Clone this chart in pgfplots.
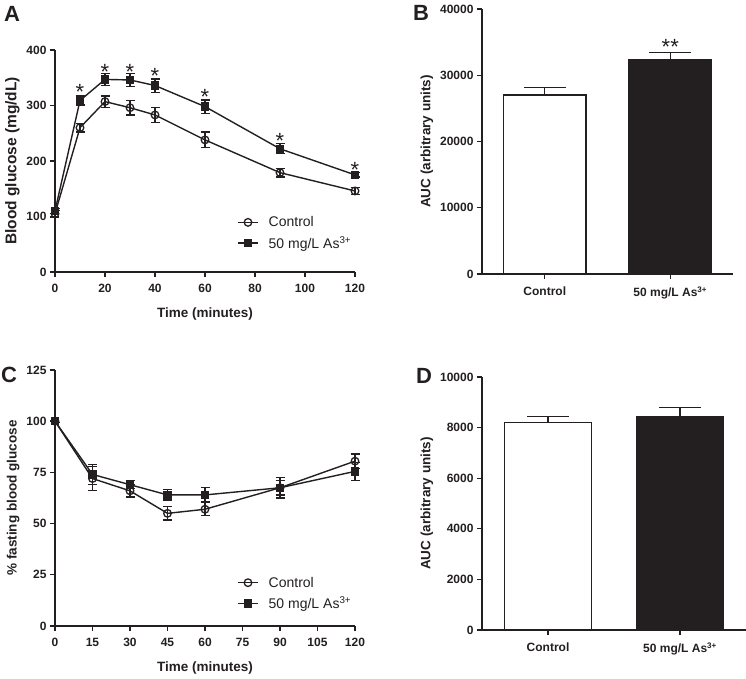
\documentclass[border=0pt]{standalone}
\usepackage{fontspec}
\setmainfont{Liberation Sans}
\usepackage{pgfplots}
\pgfplotsset{compat=1.18}
\definecolor{ink}{HTML}{231F20}

\tikzset{astk/.style={anchor=north, inner sep=0pt, font=\fontsize{22}{22}\selectfont, text=ink}}

\pgfplotsset{
  gp/.style={
    scale only axis,
    anchor=south west,
    axis lines*=left,
    axis line style={line width=1.5pt, ink, -},
    tick style={line width=1.3pt, ink},
    tick align=outside,
    major tick length=5pt,
    clip=false,
    /pgf/number format/assume math mode=true,
    /pgf/number format/1000 sep={},
    scaled ticks=false,
    tick label style={font=\fontsize{12}{12}\selectfont\bfseries, text=ink},
    xticklabel style={yshift=-4pt},
    label style={font=\fontsize{13.5}{13.5}\selectfont\bfseries, text=ink},
    xlabel style={yshift=-8pt},
  },
  ln/.style={line width=1.4pt, ink,
    error bars/y dir=both, error bars/y explicit,
    error bars/error bar style={line width=1.3pt, ink},
    error bars/error mark options={rotate=90, mark size=4.5pt, line width=1.3pt, ink}},
  ctl/.style={ln, mark=o, mark size=3.8pt, mark options={fill=white, line width=1.3pt}},
  ars/.style={ln, mark=square*, mark size=3.5pt, mark options={fill=ink}},
  lgd/.style={legend style={draw=none, fill=none, anchor=west, at={#1},
    font=\fontsize{14}{14}\selectfont, text=ink, row sep=4pt, inner sep=0pt},
    legend cell align=left,
    legend image code/.code={\draw[mark repeat=2, mark phase=2, ##1]
      plot coordinates {(0pt,0pt) (10pt,0pt) (20pt,0pt)};
      \path (28pt,0pt);}},
  bars/.style={
    xmin=-0.5, xmax=1.5, xtick={0,1},
    xticklabels={Control, 50 mg/L As\textsuperscript{3+}},
    ylabel={AUC (arbitrary units)}},
  bar/.style={ybar, bar width=0.66, bar shift=0pt, draw=ink, line width=1.4pt,
    error bars/y dir=plus, error bars/y explicit,
    error bars/error bar style={line width=1.4pt, ink},
    error bars/error mark options={rotate=90, mark size=21pt, line width=1.4pt, ink}},
}

\begin{document}
\begin{tikzpicture}[x=1pt, y=1pt]
\path[use as bounding box] (0,0) rectangle (746,678);

% A
\begin{axis}[gp, at={(55pt,406pt)}, width=300pt, height=222pt,
  xmin=0, xmax=120, ymin=0, ymax=400,
  xtick={0,20,...,120}, ytick={0,100,...,400},
  xlabel={Time (minutes)}, ylabel={Blood glucose (mg/dL)},
  ylabel style={font=\fontsize{15.5}{15.5}\selectfont\bfseries},
  lgd={(rel axis cs:0.607,0.175)}]
\addplot[ctl] coordinates {
  (0,105) +- (0,6) (10,260) +- (0,8) (20,307) +- (0,10) (30,296) +- (0,13)
  (40,283) +- (0,14) (60,238) +- (0,14) (90,179) +- (0,8) (120,146) +- (0,6)};
\addplot[ars] coordinates {
  (0,110) +- (0,5) (10,309) +- (0,8) (20,347) +- (0,11) (30,346) +- (0,12)
  (40,336) +- (0,12) (60,298) +- (0,12) (90,222) +- (0,9) (120,175) +- (0,4)};
\legend{Control, 50 mg/L As\textsuperscript{3+}}
\node[astk] at (axis cs:10,339) {*};
\node[astk] at (axis cs:20,375) {*};
\node[astk] at (axis cs:30,375) {*};
\node[astk] at (axis cs:40,368) {*};
\node[astk] at (axis cs:60,330) {*};
\node[astk] at (axis cs:90,251) {*};
\node[astk] at (axis cs:120,198) {*};
\end{axis}

% B
\begin{axis}[gp, bars, at={(482pt,404pt)}, width=251pt, height=265pt,
  ymin=0, ymax=40000, ytick={0,10000,...,40000}]
\addplot[bar, fill=white] coordinates {(0,27000) +- (0,1150)};
\addplot[bar, fill=ink] coordinates {(1,32400) +- (0,1000)};
\node[astk] at (axis cs:1,35400) {**};
\end{axis}

% C
\begin{axis}[gp, at={(55pt,52pt)}, width=300pt, height=256pt,
  xmin=0, xmax=120, ymin=0, ymax=125,
  xtick={0,15,...,120}, ytick={0,25,...,125},
  xlabel={Time (minutes)}, ylabel={\% fasting blood glucose},
  lgd={(rel axis cs:0.607,0.127)}]
\addplot[ctl] coordinates {
  (0,100) +- (0,0.5) (15,72) +- (0,6) (30,66) +- (0,3) (45,55) +- (0,3.2)
  (60,57) +- (0,3.2) (90,67.5) +- (0,5) (120,80.5) +- (0,3.5)};
\addplot[ars] coordinates {
  (0,100) +- (0,0.5) (15,74) +- (0,5) (30,69) +- (0,2) (45,64) +- (0,2.5)
  (60,64) +- (0,3.5) (90,67.5) +- (0,3.5) (120,75.5) +- (0,4.5)};
\legend{Control, 50 mg/L As\textsuperscript{3+}}
\end{axis}

% D
\begin{axis}[gp, bars, at={(482pt,48pt)}, width=264pt, height=253pt,
  ymin=0, ymax=10000, ytick={0,2000,...,10000}]
\addplot[bar, fill=white] coordinates {(0,8200) +- (0,250)};
\addplot[bar, fill=ink] coordinates {(1,8450) +- (0,350)};
\end{axis}

\begin{scope}[font=\fontsize{22}{22}\selectfont\bfseries, text=ink]
\node at (12,664) {A};
\node at (421,665) {B};
\node at (9,303) {C};
\node at (424,302) {D};
\end{scope}
\end{tikzpicture}
\end{document}
